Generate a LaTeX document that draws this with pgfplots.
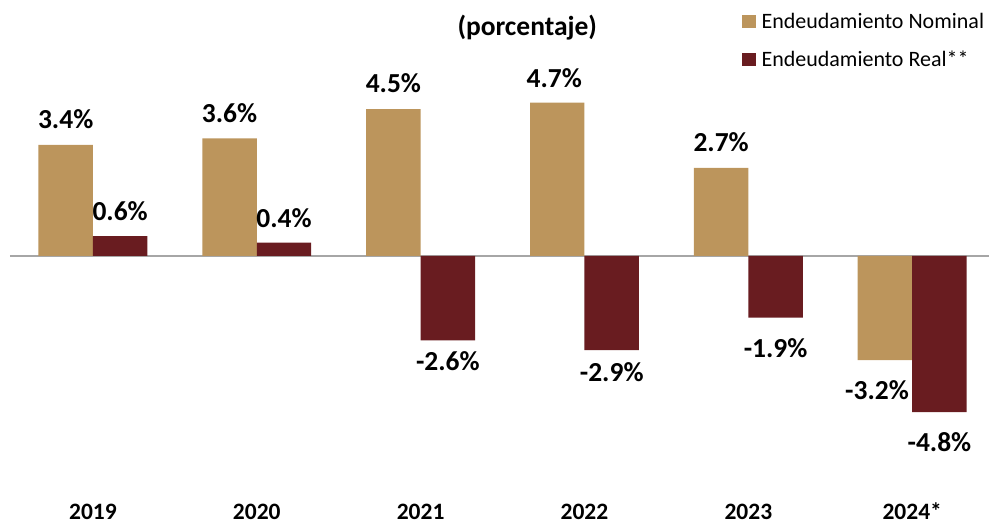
\documentclass[border=0pt]{standalone}
\usepackage{fontspec}
\setmainfont{Carlito}
\usepackage{pgfplots}
\pgfplotsset{compat=1.18}
\usepackage{pgfplotstable}
\definecolor{nom}{HTML}{BC955C}
\definecolor{realc}{HTML}{691C20}
\definecolor{zline}{HTML}{A6A6A6}

\pgfplotstableread{
x y dy dx
0 3.4 16 0
1 3.6 16 0
2 4.5 16 0
3 4.7 15 -3
4 2.7 16 0
5 -3.2 -20 -8
}\nominal
\pgfplotstableread{
x y dy dx
0 0.6 15 0
1 0.4 15 0
2 -2.6 -11 0
3 -2.9 -12 0
4 -1.9 -21 0
5 -4.8 -20 0
}\realtab

\begin{document}
\begin{tikzpicture}
\begin{axis}[
  scale only axis, width=990bp, height=523bp,
  xmin=-0.567, xmax=5.47, ymin=-8.19, ymax=7.85,
  axis line style={draw=none},
  clip=false,
  ybar=0pt, bar width=54.5bp,
  xtick={0,...,5}, xticklabels={2019,2020,2021,2022,2023,2024*},
  xtick style={draw=none}, major tick length=0pt, ytick=\empty,
  xticklabel style={font=\fontsize{23.5bp}{28bp}\selectfont\bfseries, anchor=base, inner sep=0pt, yshift=3.5bp},
  /pgf/number format/assume math mode=true,
  visualization depends on={\thisrow{dy} \as \dy},
  visualization depends on={\thisrow{dx} \as \dx},
  nodes near coords={\pgfmathprintnumber[fixed,fixed zerofill,precision=1]{\pgfplotspointmeta}\%},
  every node near coord/.append style={font=\fontsize{27.5bp}{32bp}\selectfont\bfseries, inner sep=0pt, yshift=\dy bp, xshift=\dx bp, text=black},
  legend style={at={(axis description cs:0.7495,0.975)}, anchor=north west, draw=none, fill=none,
     font=\fontsize{22bp}{26bp}\selectfont, inner sep=0pt, row sep=21bp,
     nodes={inner sep=0pt, anchor=west}},
  legend cell align=left,
  legend image code/.code={\fill[#1,draw=none] (0bp,-6.5bp) rectangle (14bp,6.5bp);},
  /tikz/every even column/.append style={column sep=0bp},
]
\draw[color=zline, line width=1.6bp] (axis cs:-0.506,0) -- (axis cs:5.47,0);
\addplot[fill=nom, draw=none] table[x=x, y=y] {\nominal};
\addlegendentry{\hspace{6bp}Endeudamiento Nominal}
\addplot[fill=realc, draw=none] table[x=x, y=y] {\realtab};
\addlegendentry{\hspace{6bp}Endeudamiento Real**}
\node[font=\fontsize{27.5bp}{32bp}\selectfont\bfseries, anchor=center] at (axis description cs:0.533,0.9465) {(porcentaje)};
\end{axis}
\end{tikzpicture}
\end{document}
